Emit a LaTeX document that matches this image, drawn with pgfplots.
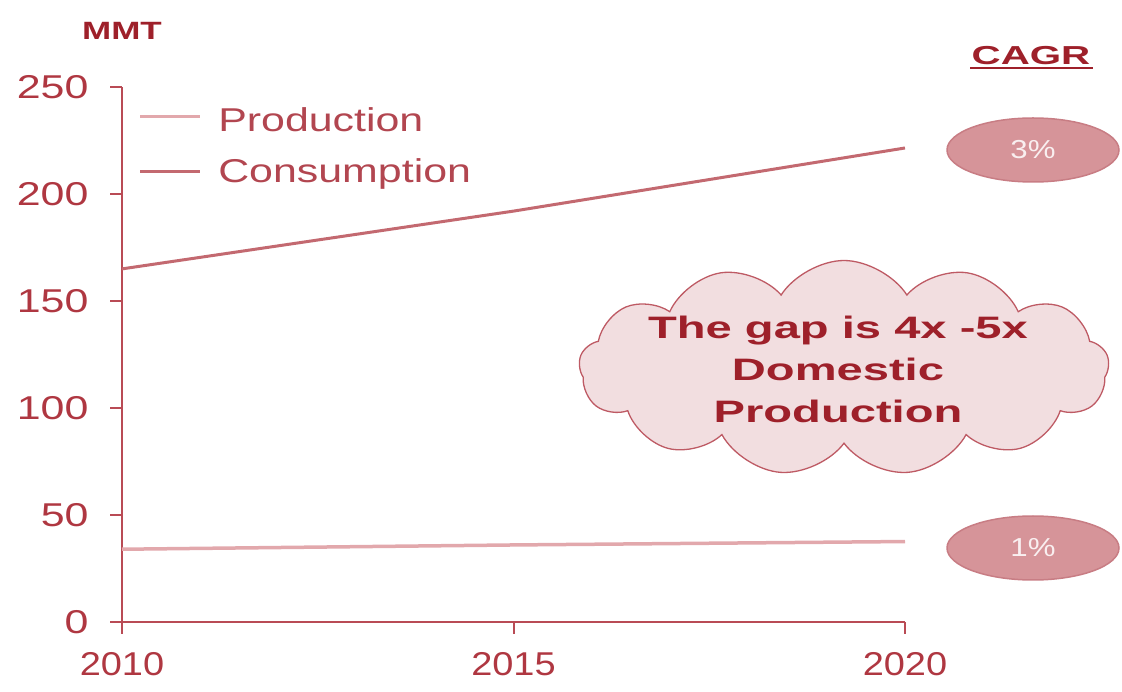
\documentclass[border=0pt]{standalone}
\usepackage{pgfplots}
\pgfplotsset{compat=1.18}
\usepackage{fontspec}
\setmainfont{Liberation Sans}
\usetikzlibrary{shapes.symbols,shapes.geometric}
\definecolor{axisred}{RGB}{185,75,85}
\definecolor{ticktext}{RGB}{175,55,65}
\definecolor{darkred}{RGB}{158,32,42}
\definecolor{consline}{RGB}{195,105,112}
\definecolor{prodline}{RGB}{226,168,172}
\definecolor{legtext}{RGB}{178,70,80}
\definecolor{ellfill}{RGB}{214,148,153}
\definecolor{ellborder}{RGB}{200,125,132}
\definecolor{cloudfill}{RGB}{242,222,224}
\definecolor{cloudborder}{RGB}{190,90,100}
\pgfplotstableread{
year cons prod
2010 165 34
2015 192 36
2020 221.5 37.6
}\mydata
\begin{document}
\begin{tikzpicture}[x=1pt,y=1pt]
\useasboundingbox (0,0) rectangle (1122,691);
\begin{axis}[
  at={(122pt,69pt)}, anchor=origin,
  scale only axis, width=783pt, height=535pt,
  xmin=2010, xmax=2020, ymin=0, ymax=250,
  axis x line*=bottom, axis y line*=left,
  axis line style={-, axisred, line width=1.8pt},
  xtick={2010,2015,2020}, ytick={0,50,100,150,200,250},
  xtick align=outside, ytick align=outside,
  major tick length=11pt,
  xtick style={draw=axisred, line width=1.8pt},
  ytick style={draw=axisred, line width=1.8pt},
  /pgf/number format/assume math mode=true,
  /pgf/number format/1000 sep={},
  ticklabel style={font=\fontsize{33}{38}\selectfont, text=ticktext},
  yticklabel style={xshift=-18pt, xscale=1.3},
  xticklabel style={yshift=-16pt, xscale=1.15},
  clip=false,
]
\addplot[prodline, line width=3.5pt] table[x=year,y=prod]{\mydata};
\addplot[consline, line width=3pt] table[x=year,y=cons]{\mydata};
\end{axis}
% tick marks
\foreach \yy in {69,176,283,390,497,604} {
  \draw[axisred, line width=2pt] (110,\yy) -- (122,\yy);
}
\foreach \xx in {122,513.5,905} {
  \draw[axisred, line width=2pt] (\xx,57) -- (\xx,69);
}
% axis title
\node[font=\fontsize{25}{30}\selectfont\bfseries, text=darkred, xscale=1.4] at (122,660) {MMT};
% legend
\draw[prodline, line width=3pt] (140,574) -- (200,574);
\draw[consline, line width=3pt] (140,519) -- (200,519);
\node[anchor=west, font=\fontsize{33}{38}\selectfont, text=legtext, xscale=1.3, inner sep=0pt] at (218,571) {Production};
\node[anchor=west, font=\fontsize{33}{38}\selectfont, text=legtext, xscale=1.3, inner sep=0pt] at (218,517) {Consumption};
% CAGR
\node[font=\fontsize{26}{30}\selectfont\bfseries, text=darkred, xscale=1.55] at (1031,635) {CAGR};
\draw[darkred, line width=1.5pt] (970,623) -- (1093,623);
% ellipses
\node[ellipse, draw=ellborder, fill=ellfill, line width=1.5pt, minimum width=172pt, minimum height=64pt, inner sep=0pt] at (1033,541) {};
\node[font=\fontsize{26}{30}\selectfont, text=white!85!ellfill, xscale=1.2] at (1033,541) {3\%};
\node[ellipse, draw=ellborder, fill=ellfill, line width=1.5pt, minimum width=172pt, minimum height=64pt, inner sep=0pt] at (1033,143) {};
\node[font=\fontsize{26}{30}\selectfont, text=white!85!ellfill, xscale=1.2] at (1033,143) {1\%};
% cloud
\node[cloud, cloud puffs=13, cloud puff arc=115, aspect=2.5, draw=cloudborder, fill=cloudfill, line width=1.3pt, minimum width=530pt, minimum height=215pt, inner sep=0pt] at (844,323) {};
\node[align=center, font=\fontsize{31}{42}\selectfont\bfseries, text=darkred, xscale=1.52] at (838,322) {The gap is 4x  -5x\\Domestic\\Production};
\end{tikzpicture}
\end{document}
